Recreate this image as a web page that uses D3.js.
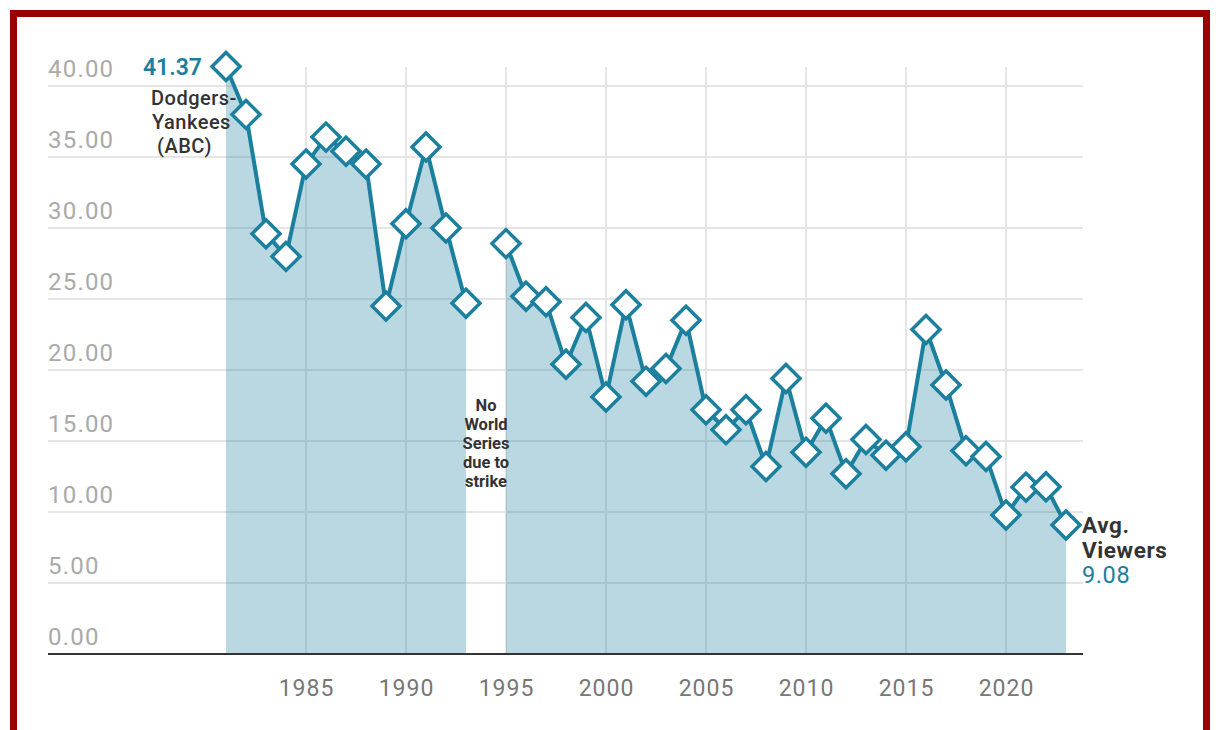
<!DOCTYPE html>
<html>
<head>
<meta charset="utf-8">
<script src="https://cdn.jsdelivr.net/npm/d3@7"></script>
<style>
  body { margin: 0; background: #fff; }
  svg { display: block; font-family: Roboto, "Liberation Sans", sans-serif; }
</style>
</head>
<body>
<script>
// World Series average viewers (millions), 1994 cancelled
var years = [1981, 1982, 1983, 1984, 1985, 1986, 1987, 1988, 1989, 1990, 1991, 1992, 1993,
  1994,
  1995, 1996, 1997, 1998, 1999, 2000, 2001, 2002, 2003, 2004, 2005, 2006, 2007, 2008, 2009,
  2010, 2011, 2012, 2013, 2014, 2015, 2016, 2017, 2018, 2019, 2020, 2021, 2022, 2023];
var viewers = [41.37, 38.0, 29.6, 28.0, 34.5, 36.4, 35.4, 34.5, 24.5, 30.3, 35.7, 30.0, 24.7,
  null,
  28.9, 25.2, 24.8, 20.4, 23.7, 18.1, 24.6, 19.2, 20.1, 23.5, 17.2, 15.8, 17.2, 13.2, 19.4,
  14.2, 16.6, 12.7, 15.1, 14.0, 14.6, 22.85, 18.94, 14.32, 13.91, 9.79, 11.75, 11.78, 9.08];
var yTicks = [0, 5, 10, 15, 20, 25, 30, 35, 40];
var xTicks = [1985, 1990, 1995, 2000, 2005, 2010, 2015, 2020];

var data = years.map((y, i) => ({ year: y, value: viewers[i] }));

var width = 1220, height = 730;
var teal = "#1b7f9e";

var svg = d3.select("body").append("svg").attr("width", width).attr("height", height);

// frame
svg.append("rect")
  .attr("x", 13.5).attr("y", 13.5)
  .attr("width", 1193).attr("height", 740)
  .attr("fill", "none").attr("stroke", "#990000").attr("stroke-width", 7);

var x = d3.scaleLinear().domain([1981, 2023]).range([226, 1066]);
var y = d3.scaleLinear().domain([0, 40]).range([654, 86]);
var left = 48, right = 1083;

// horizontal grid
svg.append("g")
  .selectAll("line")
  .data(yTicks.filter((d) => d > 0))
  .enter()
  .append("line")
  .attr("x1", left).attr("x2", right)
  .attr("y1", (d) => y(d)).attr("y2", (d) => y(d))
  .attr("stroke", "#e5e5e5").attr("stroke-width", 2);

// vertical grid
svg.append("g")
  .selectAll("line")
  .data(xTicks)
  .enter()
  .append("line")
  .attr("x1", (d) => x(d)).attr("x2", (d) => x(d))
  .attr("y1", 67).attr("y2", y(0))
  .attr("stroke", "#e5e5e5").attr("stroke-width", 2);

// area
var defined = (d) => d.value != null;
svg.append("path")
  .datum(data)
  .attr("d", d3.area().defined(defined).x((d) => x(d.year)).y0(y(0)).y1((d) => y(d.value)))
  .attr("fill", teal).attr("fill-opacity", 0.3);

// y tick labels
svg.append("g")
  .selectAll("text")
  .data(yTicks)
  .enter()
  .append("text")
  .attr("x", left)
  .attr("y", (d) => y(d) - 9)
  .attr("fill", "#aaaaaa")
  .attr("font-size", 24)
  .attr("letter-spacing", 1.2)
  .text((d) => d3.format(".2f")(d));

// x axis
var xAxis = svg.append("g")
  .attr("transform", `translate(0,${y(0)})`)
  .call(d3.axisBottom(x).tickValues(xTicks).tickFormat(d3.format("d")).tickSize(0).tickPadding(26));
xAxis.select(".domain").remove();
xAxis.selectAll("text")
  .attr("font-family", "Roboto, 'Liberation Sans', sans-serif")
  .attr("font-size", 23)
  .attr("letter-spacing", 1)
  .attr("fill", "#777");

svg.append("line")
  .attr("x1", left).attr("x2", right)
  .attr("y1", y(0)).attr("y2", y(0))
  .attr("stroke", "#333").attr("stroke-width", 2);

// line
svg.append("path")
  .datum(data)
  .attr("d", d3.line().defined(defined).x((d) => x(d.year)).y((d) => y(d.value)))
  .attr("fill", "none")
  .attr("stroke", teal)
  .attr("stroke-width", 4)
  .attr("stroke-linejoin", "round");

// diamonds
svg.append("g")
  .selectAll("path")
  .data(data.filter(defined))
  .enter()
  .append("path")
  .attr("transform", (d) => `translate(${x(d.year)},${y(d.value)})`)
  .attr("d", "M0,-14L14,0L0,14L-14,0Z")
  .attr("fill", "#fff")
  .attr("stroke", teal)
  .attr("stroke-width", 3.5);

// annotations
var first = data[0], last = data[data.length - 1];
svg.append("text")
  .attr("x", x(first.year) - 24).attr("y", y(first.value) + 8)
  .attr("text-anchor", "end")
  .attr("font-size", 23).attr("font-weight", 600)
  .attr("fill", teal)
  .text(d3.format(".2f")(first.value));

[["Dodgers-", 151], ["Yankees", 152], ["(ABC)", 157]].forEach((t, i) => {
  svg.append("text")
    .attr("x", t[1]).attr("y", 105 + i * 24)
    .attr("font-size", 20).attr("font-weight", 500).attr("fill", "#333")
    .attr("letter-spacing", 0.5)
    .text(t[0]);
});

["No", "World", "Series", "due to", "strike"].forEach((t, i) => {
  svg.append("text")
    .attr("x", x(1994)).attr("y", 411 + i * 19)
    .attr("text-anchor", "middle")
    .attr("font-size", 16.5).attr("font-weight", 700).attr("fill", "#333")
    .text(t);
});

[["Avg.", 8, 700, "#333", 22.5], ["Viewers", 33, 700, "#333", 22.5],
 [d3.format(".2f")(last.value), 58, 400, teal, 23.5]].forEach((t) => {
  svg.append("text")
    .attr("x", 1082).attr("y", y(last.value) + t[1])
    .attr("font-size", t[4]).attr("font-weight", t[2]).attr("fill", t[3])
    .attr("letter-spacing", 0.6)
    .text(t[0]);
});
</script>
</body>
</html>
